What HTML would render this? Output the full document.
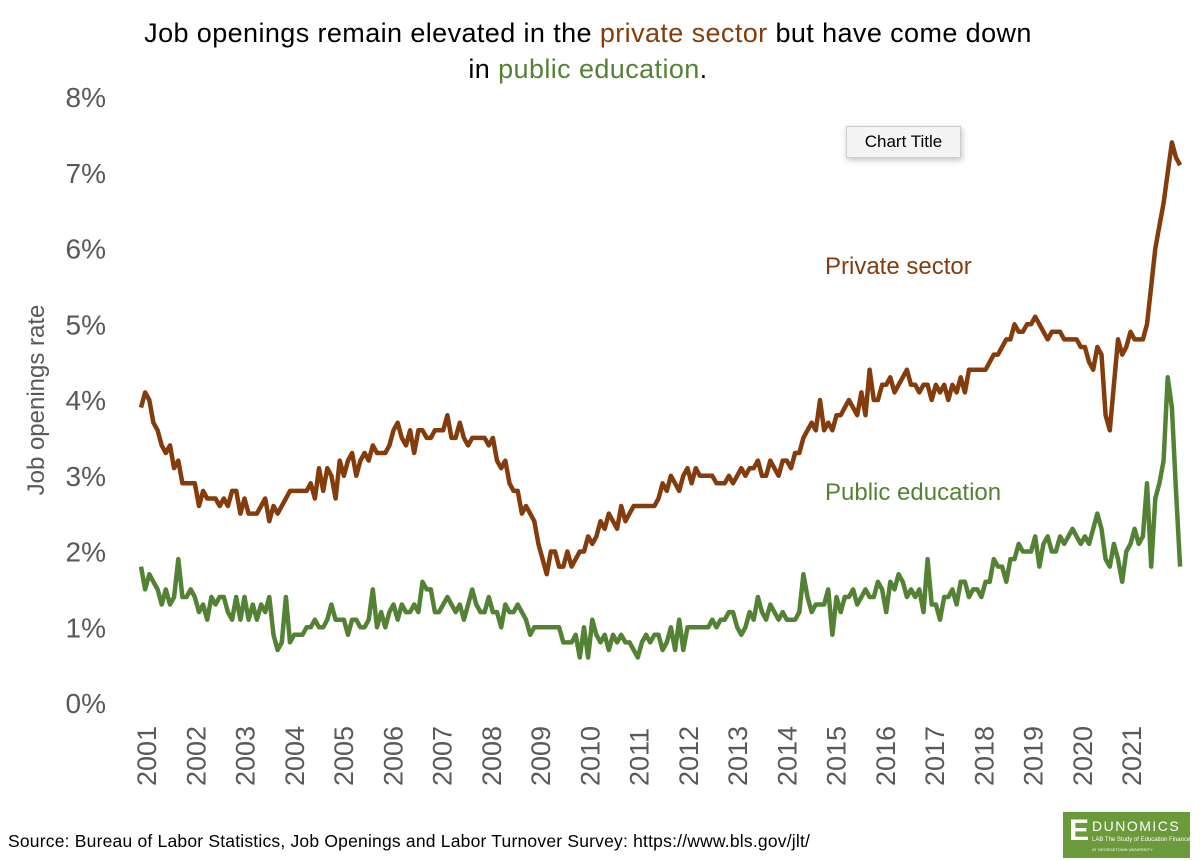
<!DOCTYPE html>
<html><head><meta charset="utf-8"><style>
body{margin:0;background:#fff;font-family:"Liberation Sans",sans-serif;}
#wrap{position:relative;width:1200px;height:861px;overflow:hidden;}
.t{position:absolute;white-space:nowrap;}
</style></head><body>
<div id="wrap">
<div class="t" style="left:0;width:1176px;text-align:center;top:18px;font-size:27px;letter-spacing:0.4px;color:#000;">Job openings remain elevated in the <span style="color:#843c0c">private sector</span> but have come down</div>
<div class="t" style="left:0;width:1176px;text-align:center;top:54px;font-size:27px;letter-spacing:0.4px;color:#000;">in <span style="color:#548235">public education</span>.</div>
<div class="t" style="left:846px;top:126px;width:113px;height:30px;border:1px solid #ccc;background:#f4f4f4;box-shadow:1px 2px 6px rgba(0,0,0,0.25);font-size:17px;line-height:30px;text-align:center;color:#000;">Chart Title</div>
<svg id="chart" width="1200" height="861" style="position:absolute;left:0;top:0"></svg>
<div class="t" style="left:8px;top:831px;font-size:17.5px;letter-spacing:0.2px;color:#000;">Source: Bureau of Labor Statistics, Job Openings and Labor Turnover Survey: https://www.bls.gov/jlt/</div>
<div class="t" style="left:1063px;top:812px;width:127px;height:46px;background:#6a9a3a;color:#fff;overflow:hidden;">
<div style="position:absolute;left:6px;top:2px;font-size:30px;font-weight:bold;">E</div>
<div style="position:absolute;left:29px;top:6px;font-size:14px;letter-spacing:1.5px;">DUNOMICS</div>
<div style="position:absolute;left:29px;top:25px;font-size:6px;">LAB The Study of Education Finance</div>
<div style="position:absolute;left:29px;top:35px;font-size:4px;">AT GEORGETOWN UNIVERSITY</div>
</div>
</div>
<script>
const yTicks=[0,1,2,3,4,5,6,7,8];
const years=["2001","2002","2003","2004","2005","2006","2007","2008","2009","2010","2011","2012","2013","2014","2015","2016","2017","2018","2019","2020","2021"];
const privateSector=[3.9,4.1,4.0,3.7,3.6,3.4,3.3,3.4,3.1,3.2,2.9,2.9,
2.9,2.9,2.6,2.8,2.7,2.7,2.7,2.6,2.7,2.6,2.8,2.8,
2.5,2.7,2.5,2.5,2.5,2.6,2.7,2.4,2.6,2.5,2.6,2.7,
2.8,2.8,2.8,2.8,2.8,2.9,2.7,3.1,2.8,3.1,3.0,2.7,
3.2,3.0,3.2,3.3,3.0,3.2,3.3,3.2,3.4,3.3,3.3,3.3,
3.4,3.6,3.7,3.5,3.4,3.6,3.3,3.6,3.6,3.5,3.5,3.6,
3.6,3.6,3.8,3.5,3.5,3.7,3.5,3.4,3.5,3.5,3.5,3.5,
3.4,3.5,3.2,3.1,3.2,2.9,2.8,2.8,2.5,2.6,2.5,2.4,
2.1,1.9,1.7,2.0,2.0,1.8,1.8,2.0,1.8,1.9,2.0,2.0,
2.2,2.1,2.2,2.4,2.3,2.5,2.4,2.3,2.6,2.4,2.5,2.6,
2.6,2.6,2.6,2.6,2.6,2.7,2.9,2.8,3.0,2.9,2.8,3.0,
3.1,2.9,3.1,3.0,3.0,3.0,3.0,2.9,2.9,2.9,3.0,2.9,
3.0,3.1,3.0,3.1,3.1,3.2,3.0,3.0,3.2,3.1,3.0,3.2,
3.2,3.1,3.3,3.3,3.5,3.6,3.7,3.6,4.0,3.6,3.7,3.6,
3.8,3.8,3.9,4.0,3.9,3.8,4.1,3.8,4.4,4.0,4.0,4.2,
4.2,4.3,4.1,4.2,4.3,4.4,4.2,4.2,4.1,4.2,4.2,4.0,
4.2,4.1,4.2,4.0,4.2,4.1,4.3,4.1,4.4,4.4,4.4,4.4,
4.4,4.5,4.6,4.6,4.7,4.8,4.8,5.0,4.9,4.9,5.0,5.0,
5.1,5.0,4.9,4.8,4.9,4.9,4.9,4.8,4.8,4.8,4.8,4.7,
4.7,4.5,4.4,4.7,4.6,3.8,3.6,4.2,4.8,4.6,4.7,4.9,
4.8,4.8,4.8,5.0,5.5,6.0,6.3,6.6,7.0,7.4,7.2,7.1];
const publicEducation=[1.8,1.5,1.7,1.6,1.5,1.3,1.5,1.3,1.4,1.9,1.4,1.4,
1.5,1.4,1.2,1.3,1.1,1.4,1.3,1.4,1.4,1.2,1.1,1.4,
1.1,1.4,1.1,1.3,1.1,1.3,1.2,1.4,0.9,0.7,0.8,1.4,
0.8,0.9,0.9,0.9,1.0,1.0,1.1,1.0,1.0,1.1,1.3,1.1,
1.1,1.1,0.9,1.1,1.1,1.0,1.0,1.1,1.5,1.0,1.2,1.0,
1.2,1.3,1.1,1.3,1.2,1.2,1.3,1.2,1.6,1.5,1.5,1.2,
1.2,1.3,1.4,1.3,1.2,1.3,1.1,1.3,1.5,1.3,1.2,1.2,
1.4,1.2,1.2,1.0,1.3,1.2,1.2,1.3,1.2,1.1,0.9,1.0,
1.0,1.0,1.0,1.0,1.0,1.0,0.8,0.8,0.8,0.9,0.6,1.0,
0.6,1.1,0.9,0.8,0.9,0.7,0.9,0.8,0.9,0.8,0.8,0.7,
0.6,0.8,0.9,0.8,0.9,0.9,0.7,0.8,1.0,0.7,1.1,0.7,
1.0,1.0,1.0,1.0,1.0,1.0,1.1,1.0,1.1,1.1,1.2,1.2,
1.0,0.9,1.0,1.2,1.1,1.4,1.2,1.1,1.3,1.2,1.1,1.2,
1.1,1.1,1.1,1.2,1.7,1.4,1.2,1.3,1.3,1.3,1.5,0.9,
1.4,1.2,1.4,1.4,1.5,1.3,1.4,1.5,1.4,1.4,1.6,1.5,
1.2,1.6,1.5,1.7,1.6,1.4,1.5,1.4,1.5,1.2,1.9,1.3,
1.3,1.1,1.4,1.4,1.5,1.3,1.6,1.6,1.4,1.5,1.5,1.4,
1.6,1.6,1.9,1.8,1.8,1.6,1.9,1.9,2.1,2.0,2.0,2.0,
2.2,1.8,2.1,2.2,2.0,2.0,2.2,2.1,2.2,2.3,2.2,2.1,
2.2,2.1,2.3,2.5,2.3,1.9,1.8,2.1,1.9,1.6,2.0,2.1,
2.3,2.1,2.2,2.9,1.8,2.7,2.9,3.2,4.3,3.9,2.8,1.8];

const NS="http://www.w3.org/2000/svg";
const svg=document.getElementById('chart');
const y0=703,y8=97;
const yScale=v=>y0-(v/8)*(y0-y8);
const xStart=141,monthW=4.14;
const xScale=i=>xStart+i*monthW;
const yearX=i=>146+i*49.25;
function mk(tag,attrs){const e=document.createElementNS(NS,tag);for(const k in attrs)e.setAttribute(k,attrs[k]);svg.appendChild(e);return e;}

yTicks.forEach(v=>{
  const t=mk('text',{x:106,y:yScale(v)+10,'text-anchor':'end','font-size':28,fill:'#595959','font-family':'Liberation Sans, sans-serif'});
  
  
  t.textContent=v+'%';
});
years.forEach((yr,i)=>{
  const x=yearX(i)+10,y=786;
  const t=mk('text',{x:x,y:y,transform:`rotate(-90 ${x} ${y})`,'font-size':27,fill:'#595959','font-family':'Liberation Sans, sans-serif'});
  
  
  t.textContent=yr;
});
const yt=mk('text',{x:44,y:400,transform:'rotate(-90 44 400)','text-anchor':'middle','font-size':24,fill:'#595959','font-family':'Liberation Sans, sans-serif'});


yt.textContent='Job openings rate';

function line(data,color,name){
  const d=data.map((v,i)=>(i?'L':'M')+xScale(i).toFixed(1)+','+yScale(v).toFixed(1)).join(' ');
  const p=mk('path',{d:d,fill:'none',stroke:color,'stroke-width':4.5,'stroke-linejoin':'round'});
  
  
}
line(privateSector,'#843c0c','private-sector-line');
line(publicEducation,'#548235','public-education-line');

const l1=mk('text',{x:825,y:274,'font-size':24,fill:'#843c0c','font-family':'Liberation Sans, sans-serif'});


l1.textContent='Private sector';
const l2=mk('text',{x:825,y:500,'font-size':24,fill:'#548235','font-family':'Liberation Sans, sans-serif'});


l2.textContent='Public education';
</script>
</body></html>
